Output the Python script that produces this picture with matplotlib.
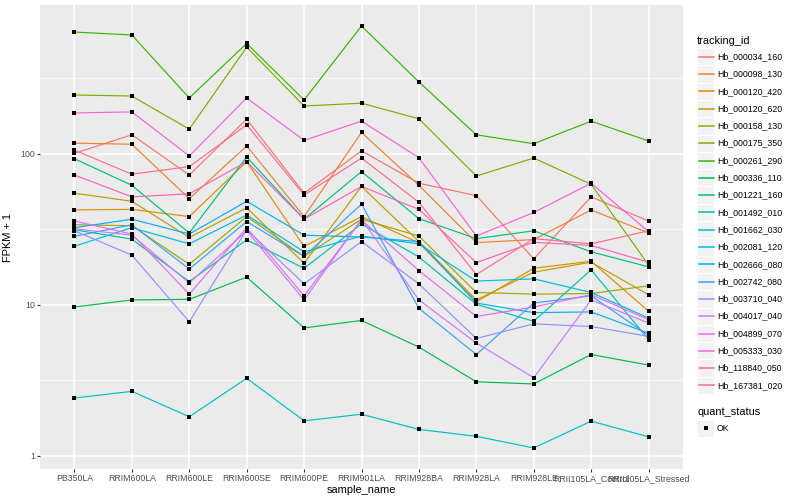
import matplotlib
matplotlib.use("Agg")
import matplotlib.pyplot as plt
from matplotlib.patches import Rectangle

plt.rcParams['font.family'] = ['Liberation Sans', 'DejaVu Sans']

# sample order on the x axis
samples = ['PB350LA', 'RRIM600LA', 'RRIM600LE', 'RRIM600SE', 'RRIM600PE',
           'RRIM901LA', 'RRIM928BA', 'RRIM928LA', 'RRIM928LE',
           'RRII105LA_Control', 'RRII105LA_Stressed']

tracking_ids = ['Hb_000034_160', 'Hb_000098_130', 'Hb_000120_420', 'Hb_000120_620',
                'Hb_000158_130', 'Hb_000175_350', 'Hb_000261_290', 'Hb_000336_110',
                'Hb_001221_160', 'Hb_001492_010', 'Hb_001662_030', 'Hb_002081_120',
                'Hb_002666_080', 'Hb_002742_080', 'Hb_003710_040', 'Hb_004017_040',
                'Hb_004899_070', 'Hb_005333_030', 'Hb_118840_050', 'Hb_167381_020']

# ggplot hue palette, 20 levels
colors = ['#F8766D', '#EA8331', '#D89000', '#C09B00', '#A3A500', '#7CAE00', '#39B600',
          '#00BB4E', '#00BF7D', '#00C1A3', '#00BFC4', '#00BAE0', '#00B0F6', '#35A2FF',
          '#9590FF', '#C77CFF', '#E76BF3', '#FA62DB', '#FF62BC', '#FF6C91']

# FPKM + 1 per gene, one value per sample
hb_000034_160 = [101, 134, 72.6, 170, 55, 105, 64, 53, 20.2, 52, 36]
hb_000098_130 = [118, 116, 50.6, 113, 38.5, 139, 62, 25.9, 27.1, 42.6, 30]
hb_000120_420 = [42.6, 43, 38.5, 89, 24.4, 38.5, 25.8, 10.5, 17.5, 19.5, 9.1]
hb_000120_620 = [55, 48.6, 28, 44, 18.9, 61, 26.3, 10.8, 16.5, 19.2, 11.7]
hb_000158_130 = [34, 33.5, 18.6, 38.5, 21, 37, 28.6, 12.1, 11.8, 11.9, 13.4]
hb_000175_350 = [246, 242, 146, 510, 208, 217, 171, 71.5, 94, 63, 18.4]
hb_000261_290 = [642, 614, 235, 540, 228, 704, 300, 134, 117, 165, 122]
hb_000336_110 = [9.7, 10.8, 10.9, 15.3, 7.05, 7.9, 5.26, 3.1, 3.0, 4.7, 4.0]
hb_001221_160 = [93, 62, 30, 95.5, 37, 76.5, 37.3, 27.5, 31, 22.5, 17.9]
hb_001492_010 = [31.5, 27.3, 14.3, 27, 17.5, 34.4, 20.8, 10.1, 7.8, 17.1, 5.9]
hb_001662_030 = [2.42, 2.68, 1.82, 3.27, 1.71, 1.89, 1.5, 1.35, 1.13, 1.7, 1.34]
hb_002081_120 = [24.5, 32.5, 25.4, 39.4, 22.5, 28.6, 25.4, 14.4, 14.9, 12.1, 8.2]
hb_002666_080 = [32.5, 37, 29.5, 48.6, 29, 28.2, 26.3, 10.3, 8.9, 9.0, 6.5]
hb_002742_080 = [28.5, 34, 17.3, 35.7, 21, 46.5, 9.5, 4.7, 10.3, 11.5, 6.3]
hb_003710_040 = [31, 21.4, 7.75, 31.5, 13.8, 26.3, 13.8, 6.0, 7.5, 7.2, 6.2]
hb_004017_040 = [32, 29, 14, 31, 10.8, 37, 10.8, 5.6, 3.3, 10.8, 7.6]
hb_004899_070 = [36, 29.5, 11.8, 32.5, 11.5, 36.6, 16.9, 8.4, 9.7, 11.7, 8.0]
hb_005333_030 = [187, 190, 97, 235, 123, 165, 94.5, 28.6, 41, 64, 30.6]
hb_118840_050 = [72.6, 52, 54.5, 89, 37, 61, 43, 19.1, 26, 24.8, 19.2]
hb_167381_020 = [106, 73.5, 82.5, 156, 53.5, 94, 47.8, 15.9, 27.5, 25.4, 31]

series = [hb_000034_160, hb_000098_130, hb_000120_420, hb_000120_620, hb_000158_130,
          hb_000175_350, hb_000261_290, hb_000336_110, hb_001221_160, hb_001492_010,
          hb_001662_030, hb_002081_120, hb_002666_080, hb_002742_080, hb_003710_040,
          hb_004017_040, hb_004899_070, hb_005333_030, hb_118840_050, hb_167381_020]

W, H = 800, 500
fig = plt.figure(figsize=(8, 5), dpi=100)
fig.patch.set_facecolor('white')

# panel in pixels: x 40..683, y 5..469
ax = fig.add_axes([40 / W, 1 - 469 / H, 643 / W, 464 / H])
ax.set_facecolor('#EBEBEB')
for s in ax.spines.values():
    s.set_visible(False)

xpos = list(range(len(samples)))
for vals, col in zip(series, colors):
    ax.plot(xpos, vals, color=col, lw=0.85, zorder=3, solid_capstyle='butt')
for vals in series:
    ax.plot(xpos, vals, ls='none', marker='s', ms=2.8, color='black',
            mew=0, zorder=4)

ax.set_yscale('log')
ax.set_ylim(0.82, 970)
ax.set_xlim(-0.6, len(samples) - 0.4)
ax.set_yticks([1, 10, 100])
ax.set_yticklabels(['1', '10', '100'])
ax.set_yticks([10 ** 0.5, 10 ** 1.5, 10 ** 2.5], minor=True)
ax.yaxis.set_minor_formatter(plt.NullFormatter())
ax.set_xticks(xpos)
ax.set_xticklabels(samples)

ax.grid(which='major', color='white', lw=1.1, zorder=1)
ax.grid(which='minor', axis='y', color='white', lw=0.55, zorder=1)
ax.set_axisbelow(True)
ax.tick_params(which='major', length=2.0, width=0.8, color='#333333',
               labelsize=6.3, labelcolor='#4D4D4D', pad=1.5)
ax.tick_params(which='minor', length=0)

ax.set_xlabel('sample_name', fontsize=7.9, labelpad=1.5)
ax.set_ylabel('FPKM + 1', fontsize=7.9, labelpad=5)

# legend drawn in pixel coordinates
lax = fig.add_axes([0, 0, 1, 1])
lax.set_xlim(0, W)
lax.set_ylim(H, 0)
lax.axis('off')
lax.patch.set_alpha(0)

lax.text(697, 40.5, 'tracking_id', fontsize=7.9, va='center', ha='left')
step = 17.3
for i, (tid, col) in enumerate(zip(tracking_ids, colors)):
    yc = 56.7 + step * i
    lax.add_patch(Rectangle((697, yc - step / 2), step, step, fc='#F2F2F2',
                            ec='white', lw=0.8, zorder=1))
    lax.plot([698.5, 713.5], [yc, yc], color=col, lw=1.1, zorder=3)
    lax.text(717, yc, tid, fontsize=6.3, va='center', ha='left')

lax.text(697, 411.7, 'quant_status', fontsize=7.9, va='center', ha='left')
yc = 428.3
lax.add_patch(Rectangle((697, yc - step / 2), step, step, fc='#F2F2F2',
                        ec='white', lw=0.8, zorder=1))
lax.plot([705.6], [yc], marker='s', ms=2.8, color='black', mew=0, zorder=3)
lax.text(717, yc, 'OK', fontsize=6.3, va='center', ha='left')

fig.savefig('out.png', dpi=100)
